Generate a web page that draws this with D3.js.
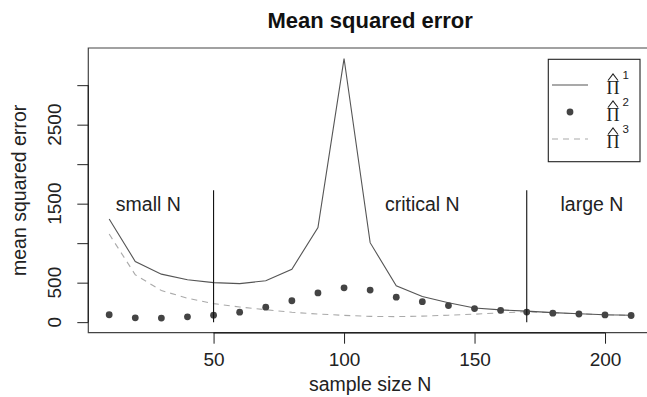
<!DOCTYPE html>
<html>
<head>
<meta charset="utf-8">
<script src="https://cdn.jsdelivr.net/npm/d3@7"></script>
<style>
  body { margin: 0; background: #fff; overflow: hidden; }
  svg { display: block; font-family: "Liberation Sans", Arial, sans-serif; }
</style>
</head>
<body>
<svg id="chart" width="647" height="397"></svg>
<script>
// sample sizes on the x axis
const sampleSizes = [10, 20, 30, 40, 50, 60, 70, 80, 90, 100, 110, 120, 130, 140, 150, 160, 170, 180, 190, 200, 210];

// mean squared error of the three estimators
const mse1 = [1306, 768, 608, 536, 501, 488, 524, 670, 1198, 3337, 1006, 460, 324, 245, 180, 155, 140, 121, 106, 93, 88];
const mse2 = [94, 55, 52, 67, 88, 126, 190, 271, 370, 434, 406, 316, 259, 210, 172, 150, 128, 114, 103, 92, 84];
const mse3 = [1115, 600, 400, 303, 235, 192, 158, 125, 103, 86, 73, 70, 76, 88, 101, 118, 132, 119, 106, 93, 86];

// axis ticks, R leaves out labels that would overlap
const xTicks = [50, 100, 150, 200];
const yTicks = [0, 500, 1000, 1500, 2000, 2500, 3000];
const yTickLabels = ["0", "500", "", "1500", "", "2500", ""];

// regions of the sample size
const cutoffs = [50, 170];
const cutoffTop = 1670;
const regionLabels = ["small N", "critical N", "large N"];
const regionX = [25, 130, 195];
const regionY = 1500;

const legendSup = ["1", "2", "3"];

const svg = d3.select("#chart");

const plotLeft = 88.3, plotRight = 652, plotTop = 48, plotBottom = 332.7;

// R style 4% padding on both axes
function padded(lo, hi) {
    let p = (hi - lo) * 0.04;
    return [lo - p, hi + p];
}

const yMax = d3.max([d3.max(mse1), d3.max(mse2), d3.max(mse3)]);

const x = d3.scaleLinear()
    .domain(padded(d3.min(sampleSizes), d3.max(sampleSizes)))
    .range([plotLeft, plotRight]);

const y = d3.scaleLinear()
    .domain(padded(0, yMax))
    .range([plotBottom, plotTop]);

// title
svg.append("text")
    .attr("x", (plotLeft + plotRight) / 2)
    .attr("y", 27.5)
    .attr("text-anchor", "middle")
    .attr("font-weight", "bold")
    .attr("font-size", 22)
    .attr("fill", "#111")
    .text("Mean squared error");

// frame (right side falls outside the picture)
svg.append("path")
    .attr("d", "M" + plotRight + "," + plotTop + "H" + plotLeft + "V" + plotBottom + "H" + plotRight)
    .attr("fill", "none")
    .attr("stroke", "#444")
    .attr("stroke-width", 1.2);

// x axis
const xAxis = d3.axisBottom(x)
    .tickValues(xTicks)
    .tickSize(11)
    .tickPadding(9)
    .tickSizeOuter(0);

const gx = svg.append("g")
    .attr("transform", "translate(0," + plotBottom + ")")
    .call(xAxis);
gx.select(".domain").attr("d", "M" + x(xTicks[0]) + ",0H" + x(xTicks[xTicks.length - 1]))
    .attr("stroke", "#222").attr("stroke-width", 1.4);
gx.selectAll(".tick line").attr("stroke", "#222");
gx.selectAll(".tick text")
    .attr("font-size", 19)
    .attr("font-family", "Liberation Sans, Arial, sans-serif")
    .attr("fill", "#222");

// y axis, labels drawn by hand so they can be turned like R does
const yAxis = d3.axisLeft(y)
    .tickValues(yTicks)
    .tickFormat("")
    .tickSize(11)
    .tickSizeOuter(0);

const gy = svg.append("g")
    .attr("transform", "translate(" + plotLeft + ",0)")
    .call(yAxis);
gy.select(".domain").attr("d", "M0," + y(yTicks[0]) + "V" + y(yTicks[yTicks.length - 1]))
    .attr("stroke", "#222").attr("stroke-width", 1.2);
gy.selectAll(".tick line").attr("stroke", "#222");
gy.selectAll(".tick text").remove();

svg.selectAll("text.ylab")
    .data(yTicks.filter((d, i) => yTickLabels[i] !== ""))
    .enter().append("text")
    .attr("class", "ylab")
    .attr("transform", d => "translate(60.5," + y(d) + ") rotate(-90)")
    .attr("text-anchor", "middle")
    .attr("font-size", 19)
    .attr("fill", "#222")
    .text(d => yTickLabels[yTicks.indexOf(d)]);

// axis titles
svg.append("text")
    .attr("x", (plotLeft + plotRight) / 2)
    .attr("y", 391)
    .attr("text-anchor", "middle")
    .attr("font-size", 19.5)
    .attr("fill", "#222")
    .text("sample size N");

svg.append("text")
    .attr("transform", "translate(25.5," + (plotTop + plotBottom) / 2 + ") rotate(-90)")
    .attr("text-anchor", "middle")
    .attr("font-size", 19.5)
    .attr("fill", "#222")
    .text("mean squared error");

// series
const rows = sampleSizes.map((n, i) => ({ n: n, a: mse1[i], b: mse2[i], c: mse3[i] }));

svg.append("path")
    .datum(rows)
    .attr("fill", "none")
    .attr("stroke", "#aaa")
    .attr("stroke-width", 1.1)
    .attr("stroke-dasharray", "6,5")
    .attr("d", d3.line().x(d => x(d.n)).y(d => y(d.c)));

svg.append("path")
    .datum(rows)
    .attr("fill", "none")
    .attr("stroke", "#555")
    .attr("stroke-width", 1.1)
    .attr("d", d3.line().x(d => x(d.n)).y(d => y(d.a)));

svg.selectAll("circle.pt")
    .data(rows)
    .enter().append("circle")
    .attr("class", "pt")
    .attr("cx", d => x(d.n))
    .attr("cy", d => y(d.b))
    .attr("r", 3.4)
    .attr("fill", "#444");

// region cut lines and labels
svg.selectAll("line.cut")
    .data(cutoffs)
    .enter().append("line")
    .attr("class", "cut")
    .attr("x1", d => x(d)).attr("x2", d => x(d))
    .attr("y1", y(0)).attr("y2", y(cutoffTop))
    .attr("stroke", "#111")
    .attr("stroke-width", 1.1);

svg.selectAll("text.region")
    .data(regionLabels)
    .enter().append("text")
    .attr("class", "region")
    .attr("x", (d, i) => x(regionX[i]))
    .attr("y", y(regionY) + 7.5)
    .attr("text-anchor", "middle")
    .attr("font-size", 19.5)
    .attr("fill", "#222")
    .text(d => d);

// legend
const lg = svg.append("g");
lg.append("rect")
    .attr("x", 548.3).attr("y", 59.3)
    .attr("width", 91.7).attr("height", 102.4)
    .attr("fill", "#fff")
    .attr("stroke", "#222")
    .attr("stroke-width", 1.1);

legendSup.forEach(function(s, i) {
    let cy = 85 + i * 27;
    if (i === 0) {
        lg.append("line").attr("x1", 552).attr("x2", 588).attr("y1", cy).attr("y2", cy)
            .attr("stroke", "#555").attr("stroke-width", 1.1);
    }
    else if (i === 1) {
        lg.append("circle").attr("cx", 570).attr("cy", cy).attr("r", 3.4).attr("fill", "#444");
    }
    else {
        lg.append("line").attr("x1", 552).attr("x2", 588).attr("y1", cy).attr("y2", cy)
            .attr("stroke", "#aaa").attr("stroke-width", 1.1).attr("stroke-dasharray", "6,5");
    }
    // hat(Pi)^i
    lg.append("text")
        .attr("x", 613).attr("y", cy + 8.5)
        .attr("text-anchor", "middle")
        .attr("font-family", "Liberation Serif, Times New Roman, serif")
        .attr("font-size", 18)
        .attr("fill", "#222")
        .text("Π");
    lg.append("path")
        .attr("d", "M608," + (cy - 4.5) + "L613," + (cy - 11) + "L618," + (cy - 4.5))
        .attr("fill", "none")
        .attr("stroke", "#222")
        .attr("stroke-width", 1.1);
    lg.append("text")
        .attr("x", 622.5).attr("y", cy - 6.5)
        .attr("font-size", 11.5)
        .attr("fill", "#222")
        .text(s);
});
</script>
</body>
</html>
